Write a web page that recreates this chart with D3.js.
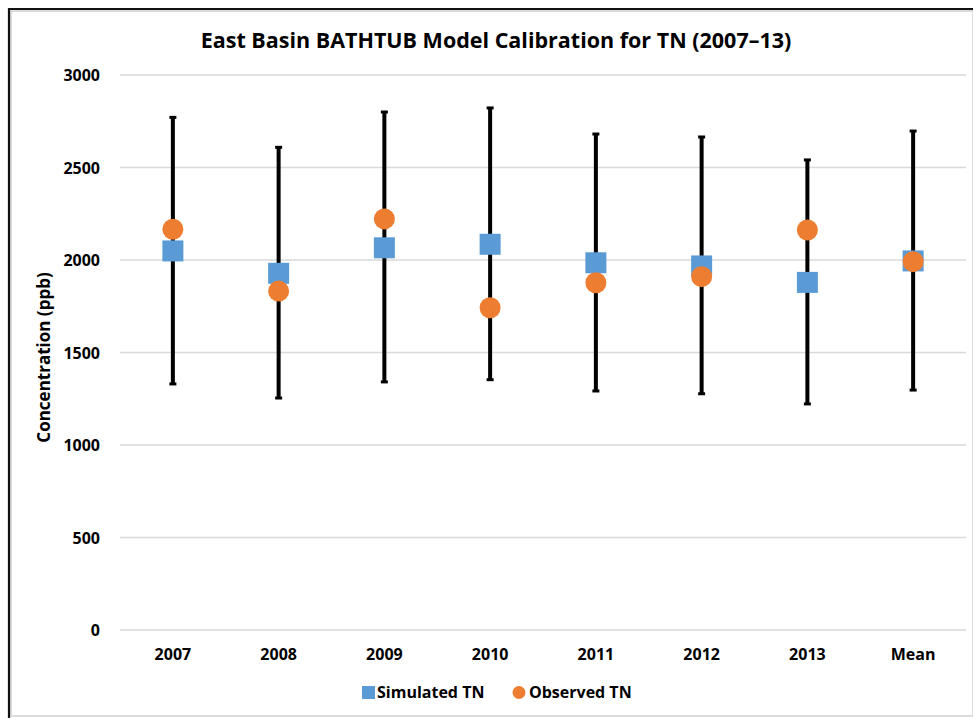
<!DOCTYPE html>
<html>
<head>
<meta charset="utf-8">
<script src="https://cdn.jsdelivr.net/npm/d3@7"></script>
<style>
  body { margin: 0; background: #fff; }
  text { font-family: "Open Sans", sans-serif; font-weight: bold; fill: #000; }
</style>
</head>
<body>
<svg id="chart" width="973" height="718"></svg>
<script>
// data
var categories = ["2007", "2008", "2009", "2010", "2011", "2012", "2013", "Mean"];
var simulated = [2049, 1928, 2066, 2085, 1985, 1968, 1879, 1995];
var observed  = [2166, 1832, 2222, 1742, 1877, 1910, 2162, 1991];
var barLow    = [1330, 1254, 1341, 1353, 1292, 1277, 1222, 1297];
var barHigh   = [2771, 2609, 2800, 2822, 2681, 2665, 2541, 2697];
var yTicks = [0, 500, 1000, 1500, 2000, 2500, 3000];

var width = 973, height = 718;
var plotLeft = 120, plotRight = 966, plotTop = 75, plotBottom = 630;

var svg = d3.select("#chart");

// frame
svg.append("rect")
    .attr("x", 11).attr("y", 11)
    .attr("width", width - 11).attr("height", 705)
    .attr("fill", "none").attr("stroke", "#d0d0d0").attr("stroke-width", 1.5);
svg.append("path")
    .attr("d", "M9," + height + "V9H" + width)
    .attr("fill", "none").attr("stroke", "#111").attr("stroke-width", 2.2);

var x = d3.scaleBand().domain(categories).range([plotLeft, plotRight]);
var y = d3.scaleLinear().domain([0, 3000]).range([plotBottom, plotTop]);

// grid
svg.append("g")
    .selectAll("line")
    .data(yTicks)
    .enter()
    .append("line")
    .attr("x1", plotLeft).attr("x2", plotRight)
    .attr("y1", function(d){ return y(d); })
    .attr("y2", function(d){ return y(d); })
    .attr("stroke", "#d9d9d9").attr("stroke-width", 1.3);

// y axis labels
var yAxis = svg.append("g")
    .attr("transform", "translate(" + (plotLeft - 10) + ",0)")
    .call(d3.axisLeft(y).tickValues(yTicks).tickFormat(d3.format("d")).tickSize(0).tickPadding(10));
yAxis.select(".domain").remove();
yAxis.selectAll("text").style("font-size", "16px").attr("dy", "0.35em");

// x axis labels
var xAxis = svg.append("g")
    .attr("transform", "translate(0," + plotBottom + ")")
    .call(d3.axisBottom(x).tickSize(0).tickPadding(19));
xAxis.select(".domain").remove();
xAxis.selectAll("text").style("font-size", "16px");
svg.selectAll(".tick text").attr("font-family", null);

// axis title
svg.append("text")
    .attr("transform", "translate(50," + ((plotTop + plotBottom) / 2 + 5) + ") rotate(-90)")
    .style("text-anchor", "middle")
    .style("font-size", "17px")
    .text("Concentration (ppb)");

// title
svg.append("text")
    .attr("x", 496).attr("y", 48)
    .style("text-anchor", "middle")
    .style("font-size", "21.5px")
    .text("East Basin BATHTUB Model Calibration for TN (2007\u201313)");

var cx = function(i){ return x(categories[i]) + x.bandwidth() / 2; };

// error bars
var bars = svg.append("g")
    .selectAll("g")
    .data(categories)
    .enter()
    .append("g");
bars.append("line")
    .attr("x1", function(d, i){ return cx(i); })
    .attr("x2", function(d, i){ return cx(i); })
    .attr("y1", function(d, i){ return y(barLow[i]); })
    .attr("y2", function(d, i){ return y(barHigh[i]); })
    .attr("stroke", "#000").attr("stroke-width", 4);
[barLow, barHigh].forEach(function(arr){
    bars.append("line")
        .attr("x1", function(d, i){ return cx(i) - 3.5; })
        .attr("x2", function(d, i){ return cx(i) + 3.5; })
        .attr("y1", function(d, i){ return y(arr[i]); })
        .attr("y2", function(d, i){ return y(arr[i]); })
        .attr("stroke", "#000").attr("stroke-width", 3);
});

// simulated squares
var sq = 21;
svg.append("g")
    .selectAll("rect")
    .data(simulated)
    .enter()
    .append("rect")
    .attr("x", function(d, i){ return cx(i) - sq / 2; })
    .attr("y", function(d){ return y(d) - sq / 2; })
    .attr("width", sq).attr("height", sq)
    .attr("fill", "#5b9bd5");

// observed circles
svg.append("g")
    .selectAll("circle")
    .data(observed)
    .enter()
    .append("circle")
    .attr("cx", function(d, i){ return cx(i); })
    .attr("cy", function(d){ return y(d); })
    .attr("r", 10.5)
    .attr("fill", "#ed7d31");

// legend
var legend = svg.append("g");
legend.append("rect")
    .attr("x", 362).attr("y", 686).attr("width", 13).attr("height", 13)
    .attr("fill", "#5b9bd5");
legend.append("text")
    .attr("x", 377).attr("y", 698)
    .style("font-size", "16px")
    .text("Simulated TN");
legend.append("circle")
    .attr("cx", 519).attr("cy", 692.5).attr("r", 6.5)
    .attr("fill", "#ed7d31");
legend.append("text")
    .attr("x", 529).attr("y", 698)
    .style("font-size", "16px")
    .text("Observed TN");
</script>
</body>
</html>
